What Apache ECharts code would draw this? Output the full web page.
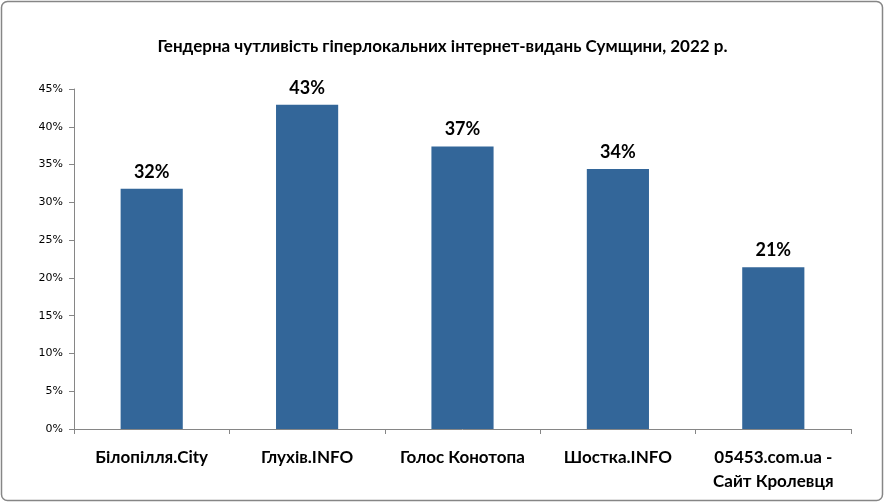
<!DOCTYPE html>
<html>
<head>
<meta charset="utf-8">
<script src="https://cdn.jsdelivr.net/npm/echarts@6/dist/echarts.min.js"></script>
<style>
  html, body { margin: 0; padding: 0; background: #fff; }
  #chart { width: 885px; height: 503px; }
</style>
</head>
<body>
<div id="chart"></div>
<script>
// chart data
const categories = ["Білопілля.City", "Глухів.INFO", "Голос Конотопа", "Шостка.INFO", "05453.com.ua -\nСайт Кролевця"];
const values = [31.8, 42.9, 37.4, 34.4, 21.4];
const yTicks = [0, 5, 10, 15, 20, 25, 30, 35, 40, 45];

const myChart = echarts.init(document.getElementById("chart"));

const option = {
  animation: false,
  backgroundColor: "#ffffff",
  title: {
    text: "Гендерна чутливість гіперлокальних інтернет-видань Сумщини, 2022 р.",
    left: "center",
    top: 33,
    textStyle: {
      fontFamily: "Lato",
      fontSize: 17,
      fontWeight: "bold",
      color: "#000"
    }
  },
  graphic: [
    {
      type: "rect",
      shape: { x: 1.5, y: 1.5, width: 881, height: 499, r: 6 },
      style: { fill: "none", stroke: "#868686", lineWidth: 1.5 },
      silent: true
    }
  ],
  grid: {
    left: 74,
    right: 34,
    top: 89,
    bottom: 74
  },
  xAxis: {
    type: "category",
    data: categories,
    axisLine: { lineStyle: { color: "#868686", width: 1 } },
    axisTick: { show: true, length: 5, lineStyle: { color: "#868686" } },
    axisLabel: {
      fontFamily: "Lato",
      fontSize: 17,
      fontWeight: "bold",
      color: "#000",
      margin: 17,
      lineHeight: 24,
      interval: 0
    }
  },
  yAxis: {
    type: "value",
    min: 0,
    max: 45,
    interval: 5,
    axisLine: { show: true, lineStyle: { color: "#868686", width: 1 } },
    axisTick: { show: true, length: 5, lineStyle: { color: "#868686" } },
    splitLine: { show: false },
    axisLabel: {
      fontFamily: "DejaVu Sans",
      fontSize: 11,
      color: "#000",
      margin: 11,
      formatter: function (v) {
        return yTicks.indexOf(v) >= 0 ? v + "%" : "";
      }
    }
  },
  series: [
    {
      type: "bar",
      data: values,
      barWidth: "40%",
      itemStyle: { color: "#336699" },
      label: {
        show: true,
        position: "top",
        distance: 8,
        fontFamily: "Lato",
        fontSize: 18,
        fontWeight: "bold",
        color: "#000",
        formatter: function (p) {
          return Math.round(p.value) + "%";
        }
      }
    }
  ]
};

myChart.setOption(option);
</script>
</body>
</html>
